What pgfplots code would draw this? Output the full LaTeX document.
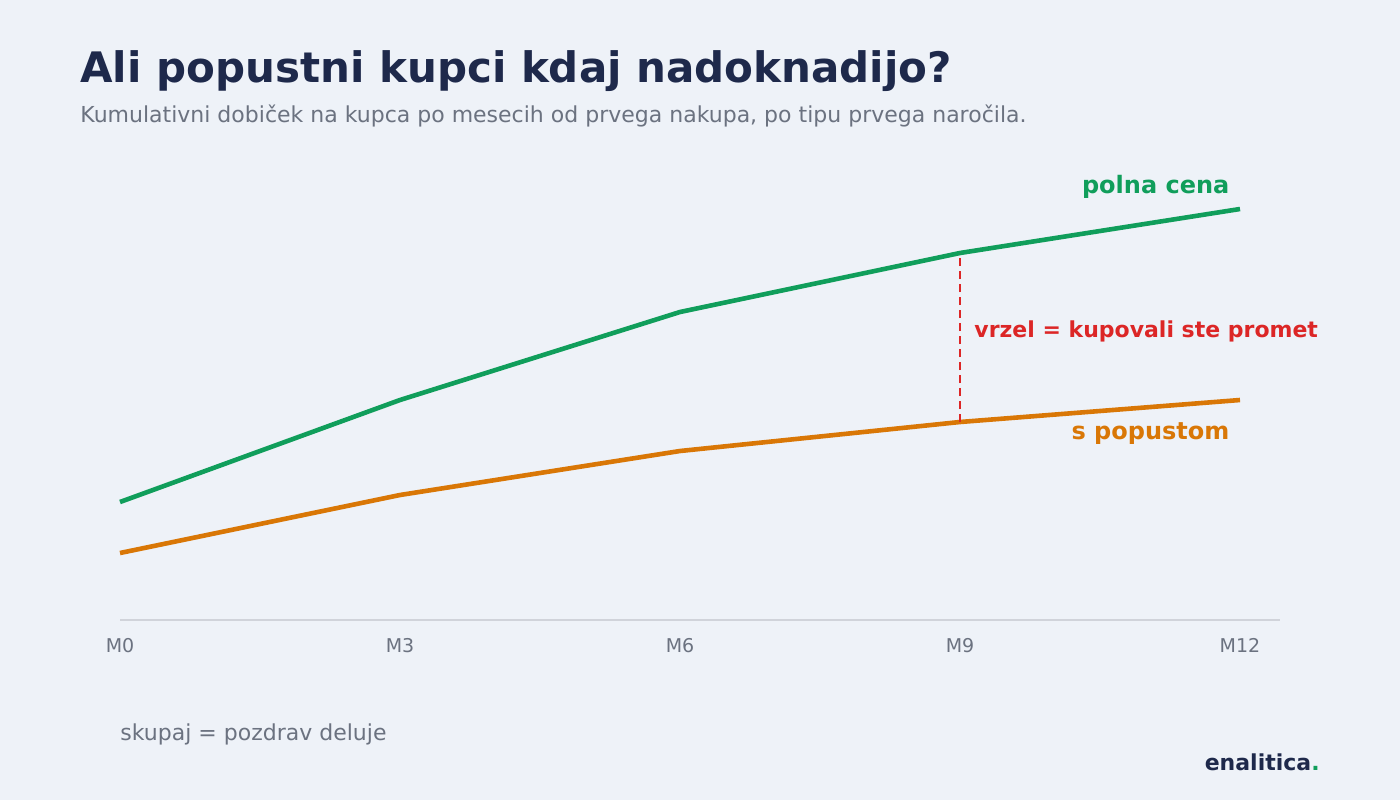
\documentclass[border=0pt]{standalone}
\usepackage{pgfplots}
\pgfplotsset{compat=1.18}
\usepackage{fontspec}
\setmainfont{DejaVu Sans}

\definecolor{bg}{HTML}{EEF2F8}
\definecolor{navy}{HTML}{1E294B}
\definecolor{muted}{HTML}{6B7280}
\definecolor{full}{HTML}{109E5B}
\definecolor{disc}{HTML}{D97706}
\definecolor{gap}{HTML}{DC2626}
\definecolor{baseln}{HTML}{D0D3DA}

\begin{document}
\begin{tikzpicture}
\fill[bg] (0,0) rectangle (700pt,400pt);
\useasboundingbox (0,0) rectangle (700pt,400pt);

\node[anchor=base west, text=navy, font=\bfseries\fontsize{21}{25}\selectfont, inner sep=0pt]
  at (40pt,359pt) {Ali popustni kupci kdaj nadoknadijo?};
\node[anchor=base west, text=muted, font=\fontsize{11}{13}\selectfont, inner sep=0pt]
  at (40pt,339pt) {Kumulativni dobiček na kupca po mesecih od prvega nakupa, po tipu prvega naročila.};

\begin{axis}[
    at={(60pt,90pt)}, anchor=south west,
    scale only axis,
    width=580pt, height=230pt,
    xmin=0, xmax=12.4286,
    ymin=0, ymax=460,
    axis x line=bottom, axis y line=none,
    axis line style={-, baseln, line width=1pt},
    xtick={0,3,6,9,12},
    xticklabels={M0,M3,M6,M9,M12},
    major tick length=0pt,
    xticklabel style={text=muted, font=\fontsize{9.5}{11}\selectfont, yshift=-5.5pt},
    ytick=\empty,
    clip=false,
]
% polna cena
\addplot[full, line width=2.3pt] coordinates {
    (0,118) (3,220) (6,308) (9,367) (12,411)
};
% s popustom
\addplot[disc, line width=2.3pt] coordinates {
    (0,67) (3,125) (6,169) (9,198) (12,220)
};
% vrzel pri M9
\addplot[gap, line width=1pt, dash pattern=on 4pt off 2.5pt] coordinates {
    (9,198) (9,367)
};
\node[anchor=east, text=full, font=\bfseries\fontsize{12}{14}\selectfont, inner sep=0pt]
  at (axis cs:11.89,433) {polna cena};
\node[anchor=east, text=disc, font=\bfseries\fontsize{12}{14}\selectfont, inner sep=0pt]
  at (axis cs:11.89,186) {s popustom};
\node[anchor=west, text=gap, font=\bfseries\fontsize{11}{13}\selectfont, inner sep=0pt]
  at (axis cs:9.15,289) {vrzel = kupovali ste promet};
\end{axis}

\node[anchor=base west, text=muted, font=\fontsize{11}{13}\selectfont, inner sep=0pt]
  at (60pt,30pt) {skupaj = pozdrav deluje};
\node[anchor=base east, text=navy, font=\bfseries\fontsize{11}{13}\selectfont, inner sep=0pt]
  at (660pt,15pt) {enalitica\textcolor{full}{.}};
\end{tikzpicture}
\end{document}
